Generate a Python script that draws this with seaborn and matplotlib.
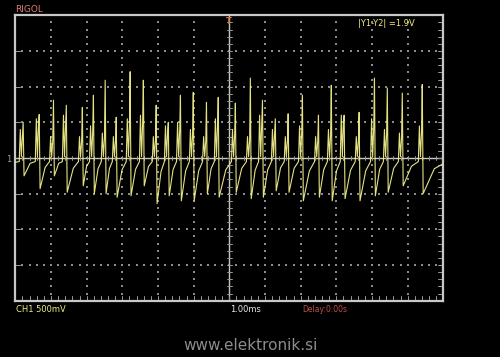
import numpy as np
import pandas as pd
import matplotlib
matplotlib.use("Agg")
import matplotlib.pyplot as plt
import seaborn as sns

# ---- data (time in ms, voltage in V) ----
spike_t = [-5.78, -5.33, -4.93, -4.57, -4.12, -3.81, -3.48, -3.17, -2.78, -2.41,
           -2.05, -1.71, -1.37, -1.01, -0.64, -0.31, 0.17, 0.59, 0.93, 1.29,
           1.65, 2.05, 2.50, 2.86, 3.22, 3.64, 4.07, 4.43, 4.85, 5.41]
spike_peak = [0.50, 0.61, 0.81, 0.74, 0.71, 0.88, 1.09, 0.57, 1.21, 1.09,
              0.74, 0.50, 0.88, 0.92, 0.78, 0.85, 0.77, 1.12, 0.81, 0.55,
              0.62, 0.88, 0.60, 1.02, 0.60, 0.64, 1.12, 0.98, 0.91, 1.03]
trough_v = [-0.25, -0.43, -0.25, -0.48, -0.39, -0.50, -0.50, -0.55, -0.53, -0.39,
            -0.64, -0.53, -0.60, -0.60, -0.50, -0.55, -0.48, -0.57, -0.55, -0.46,
            -0.48, -0.60, -0.55, -0.60, -0.57, -0.60, -0.53, -0.48, -0.39, -0.50]
shoulder_v = [0.40, 0.55, 0.30, 0.60, 0.30, 0.45, 0.35, 0.30, 0.55, 0.60,
              0.30, 0.45, 0.50, 0.40, 0.30, 0.55, 0.40, 0.30, 0.60, 0.40,
              0.30, 0.45, 0.30, 0.40, 0.60, 0.30, 0.55, 0.40, 0.35, 0.45]
start_v = -0.06
end_v = -0.08

T_MIN, T_MAX = -6.0, 6.0

# ---- build the waveform vertices from the per-cycle values ----
pts_t, pts_v = [T_MIN], [start_v]
for i, t in enumerate(spike_t):
    nxt = spike_t[i + 1] if i + 1 < len(spike_t) else T_MAX + 0.12
    g = nxt - t
    pts_t += [t - 0.11, t - 0.08, t - 0.05, t - 0.02, t, t + 0.025]
    pts_v += [-0.05, shoulder_v[i], 0.02, shoulder_v[i] * 0.8, spike_peak[i], trough_v[i]]
    span = g - 0.14
    pts_t += [t + 0.025 + 0.55 * span]
    pts_v += [trough_v[i] * 0.3]
pts_t.append(T_MAX)
pts_v.append(end_v)
df = pd.DataFrame({"t": pts_t, "v": pts_v})

# ---- figure ----
sns.set_style("dark", {"axes.facecolor": "black", "figure.facecolor": "black"})
plt.rcParams["font.family"] = ["DejaVu Sans"]
fig = plt.figure(figsize=(5.0, 3.57), dpi=100)
fig.patch.set_facecolor("black")
W, H = 500, 357
x0, x1, y0, y1 = 15.3, 443.3, 15.3, 300.7
ax = fig.add_axes([x0 / W, 1 - y1 / H, (x1 - x0) / W, (y1 - y0) / H])
ax.set_facecolor("black")
ax.set_xlim(T_MIN, T_MAX)
ax.set_ylim(-2.0, 2.0)
ax.set_xticks([]); ax.set_yticks([])
for s in ax.spines.values():
    s.set_color("#c8c8c8"); s.set_linewidth(1.6)
ax.grid(False)

# dotted graticule
dot_c = "#8c8c8c"
xs_minor = np.arange(-6, 6.001, 0.2)
ys_minor = np.arange(-2, 2.001, 0.1)
for gy in [-1.5, -1.0, -0.5, 0.5, 1.0, 1.5]:
    ax.scatter(xs_minor, np.full_like(xs_minor, gy), s=0.8, c=dot_c, marker="s", linewidths=0, zorder=1)
for gx in [-5, -4, -3, -2, -1, 1, 2, 3, 4, 5]:
    ax.scatter(np.full_like(ys_minor, gx), ys_minor, s=0.8, c=dot_c, marker="s", linewidths=0, zorder=1)

# center axes with ticks
axc = "#c8c8c0"
tkc = "#9a9a94"
ax.axhline(0, color=axc, lw=1.0, zorder=2)
ax.axvline(0, color=axc, lw=1.0, zorder=2)
tx = 0.07  # ms half tick length
ty = 0.035  # V half tick length
for xv in xs_minor:
    ax.plot([xv, xv], [-ty, ty], color=tkc, lw=0.7, zorder=2)
    ax.plot([xv, xv], [-2.0, -2.0 + 2 * ty], color=tkc, lw=0.7, zorder=2)
for yv in ys_minor:
    ax.plot([-tx, tx], [yv, yv], color=tkc, lw=0.7, zorder=2)
    ax.plot([T_MAX - 2 * tx, T_MAX], [yv, yv], color=tkc, lw=0.7, zorder=2)
for yv in [-1.5, -1.0, -0.5, 0.5, 1.0, 1.5]:
    ax.plot([T_MIN, T_MIN + 2 * tx], [yv, yv], color=tkc, lw=0.7, zorder=2)

# waveform
sns.lineplot(data=df, x="t", y="v", sort=False, estimator=None, ax=ax,
             color="#f2ee8a", lw=0.8, alpha=0.95, zorder=3)
ax.set_xlabel(""); ax.set_ylabel("")

# trigger marker
ax.text(0, 1.97, "T", color="#e07040", fontsize=6, ha="center", va="top",
        fontweight="bold", zorder=4)

def ftext(px, py, s, **kw):
    fig.text(px / W, 1 - py / H, s, **kw)

ftext(15, 10, "RIGOL", color="#e08070", fontsize=6.5, va="center", ha="left")
ftext(358, 23.5, "|Y1-Y2| =1.9V", color="#f0ec80", fontsize=6, va="center", ha="left")
ftext(16, 309.5, "CH1 500mV", color="#f0ec80", fontsize=6, va="center", ha="left")
ftext(230, 309.5, "1.00ms", color="#e8e8e8", fontsize=6, va="center", ha="left")
ftext(302, 309.5, "Delay:0.00s", color="#c05048", fontsize=5.5, va="center", ha="left")
ftext(6, 160, "1", color="#a0a0a0", fontsize=6, va="center", ha="left")
ftext(251, 345, "www.elektronik.si", color="#8c8c8c", fontsize=11, va="center", ha="center")

fig.savefig("out.png", dpi=100, facecolor="black")
